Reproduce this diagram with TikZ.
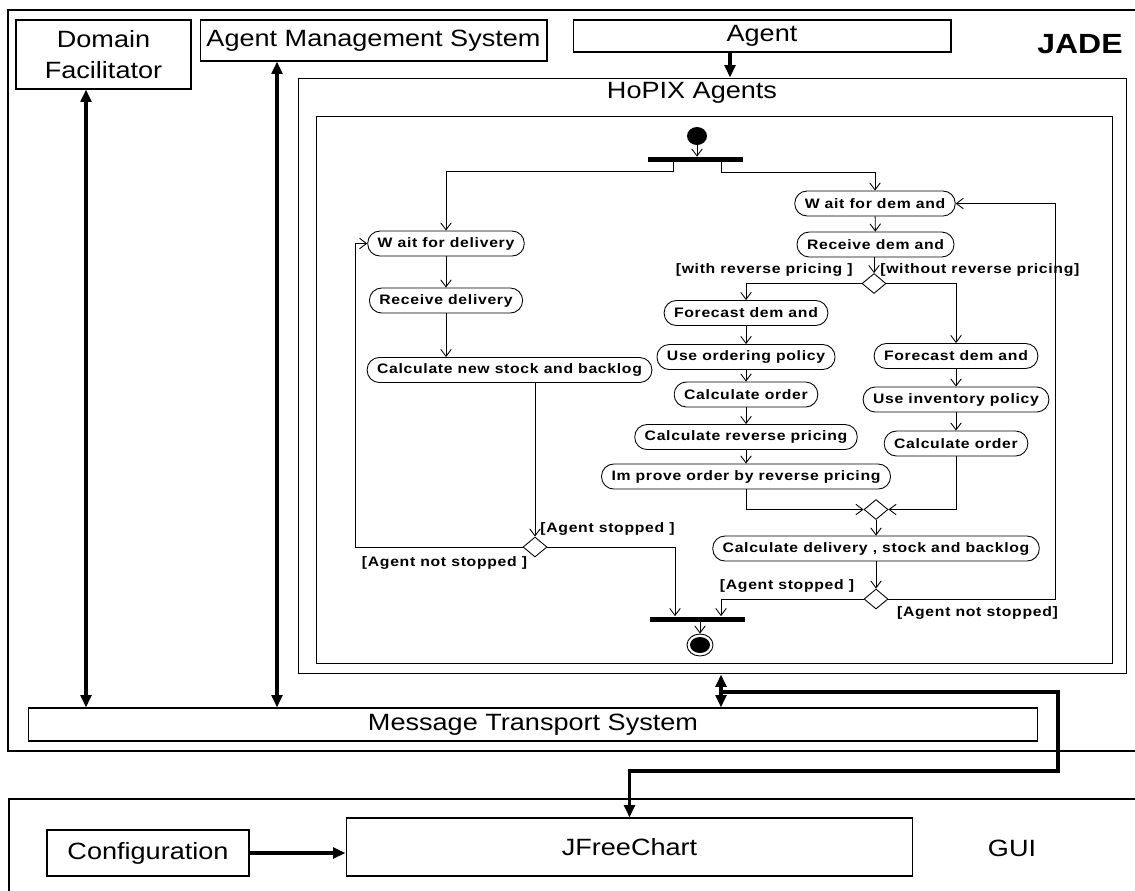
\documentclass[tikz,border=0pt]{standalone}
\usepackage{fontspec}
\setmainfont{Liberation Sans}[FakeStretch=1.15]
\newfontfamily\actfont{Liberation Sans}[FakeStretch=1.15,LetterSpace=5]
\usetikzlibrary{arrows.meta,shapes.geometric,calc}

\tikzset{
  archbox/.style={draw, line width=0.6pt, inner sep=0pt, align=center, font=\fontsize{13.4}{18}\selectfont},
  archlabel/.style={inner sep=0pt, font=\fontsize{13.4}{18}\selectfont},
  frame/.style={draw, line width=0.6pt, inner sep=0pt},
  act/.style={draw, line width=0.5pt, rounded corners=0.245cm, minimum height=0.5cm, inner xsep=0.2cm, inner ysep=0pt, font=\actfont\bfseries\fontsize{7.8}{9}\selectfont},
  guard/.style={inner sep=0pt, font=\actfont\bfseries\fontsize{7.8}{9}\selectfont},
  choice/.style={draw, diamond, line width=0.5pt, inner sep=0pt, minimum width=0.48cm, minimum height=0.4cm},
  syncbar/.style={fill, inner sep=0pt, minimum width=1.9cm, minimum height=0.1cm},
  flow/.style={line width=0.5pt, -{Straight Barb[length=4pt,width=6pt]}},
  bigflow/.style={line width=2pt, -{Triangle[length=7pt,width=6pt]}},
  bigboth/.style={line width=2pt, {Triangle[length=7pt,width=6pt]}-{Triangle[length=7pt,width=6pt]}}
}

\begin{document}
\begin{tikzpicture}[x=0.02cm, y=-0.02cm]
        \useasboundingbox (0,0) rectangle (1135,890);
        \clip (0,0) rectangle (1135,890);

        %JADE
        \draw [line width=0.6pt] (8,10) rectangle (1150,751);
        \node [inner sep=0pt, font=\bfseries\fontsize{15.8}{18}\selectfont] (jade) at (1080,44) {JADE};
        \node [archbox, minimum width=3.5cm, minimum height=1.38cm] (df) at (103.5,54.5) {Domain\\Facilitator};
        \node [archbox, minimum width=6.94cm, minimum height=0.82cm] (ams) at (373.5,40.5) {Agent Management System};
        \node [archbox, minimum width=7.56cm, minimum height=0.64cm] (agent) at (762,36) {Agent};
        \node [archbox, minimum width=20.2cm, minimum height=0.66cm] (mts) at (533,724.5) {Message Transport System};

        %HoPIX Agents
        \node [frame, minimum width=16.58cm, minimum height=11.92cm] (hopix) at (712.5,376) {};
        \node [archlabel] (hopixtitle) at (692,93) {HoPIX Agents};
        \node [frame, minimum width=15.94cm, minimum height=10.96cm] (activity) at (714.5,390) {};

        %Platform links
        \coordinate (dfdrop) at (86,0);
        \coordinate (amsdrop) at (277,0);
        \coordinate (agentdrop) at (730,0);
        \coordinate (hopixdrop) at (721,0);
        \coordinate (tap) at (721,692);
        \draw [bigboth] (df.south -| dfdrop) -- (mts.north -| dfdrop);
        \draw [bigboth] (ams.south -| amsdrop) -- (mts.north -| amsdrop);
        \draw [bigflow] (agent.south -| agentdrop) -- (hopix.north -| agentdrop);
        \draw [bigboth] (hopix.south -| hopixdrop) -- (mts.north -| hopixdrop);

        %Start and fork
        \node [ellipse, fill, inner sep=0pt, minimum width=0.4cm, minimum height=0.36cm] (start) at (697,136) {};
        \node [syncbar] (forkbar) at (695.5,159.5) {};
        \draw [flow] (start.south) -- (start.south |- forkbar.north);

        %Delivery side
        \node [act] (waitdel) at (446,243.5) {W ait for delivery};
        \node [act] (recdel) at (446,300.5) {Receive delivery};
        \node [act] (calcstock) at (509.5,370) {Calculate new stock and backlog};
        \node [choice] (dleft) at (535,547) {};
        \draw [flow] ($(forkbar.south)+(-22.5,0)$) -- ++(0,9) -| (waitdel.north);
        \draw [flow] (waitdel) -- (recdel);
        \draw [flow] (recdel.south) -- (recdel.south |- calcstock.north);
        \draw [flow] (calcstock.south -| dleft.north) -- (dleft.north);
        \draw [flow] (dleft.west) -- ++(-167,0) |- (waitdel.west);
        \node [guard] (dlstop) at (607.5,529) {[Agent stopped ]};
        \node [guard] (dlgo) at (444.5,563) {[Agent not stopped ]};

        %Demand side
        \node [act] (waitdem) at (875,203.5) {W ait for dem and};
        \node [act] (recdem) at (875.5,244.5) {Receive dem and};
        \node [choice] (dsplit) at (874,283.5) {};
        \draw [flow] ($(forkbar.south)+(25.5,0)$) -- ++(0,10) -| (waitdem.north);
        \draw [flow] (waitdem) -- (recdem);
        \draw [flow] (recdem.south -| dsplit.north) -- (dsplit.north);
        \node [guard, anchor=east] (withrp) at (853,270) {[with reverse pricing ]};
        \node [guard, anchor=west] (withoutrp) at (880,270) {[without reverse pricing]};

        %With reverse pricing
        \node [act] (fcl) at (746,313) {Forecast dem and};
        \node [act] (uop) at (746,357) {Use ordering policy};
        \node [act] (col) at (746,394.5) {Calculate order};
        \node [act] (crp) at (746,437) {Calculate reverse pricing};
        \node [act] (iop) at (746,476.5) {Im prove order by reverse pricing};
        \draw [flow] (dsplit.west) -| (fcl.north);
        \draw [flow] (fcl) -- (uop);
        \draw [flow] (uop) -- (col);
        \draw [flow] (col) -- (crp);
        \draw [flow] (crp) -- (iop);

        %Without reverse pricing
        \node [act] (fcr) at (956,356) {Forecast dem and};
        \node [act] (uip) at (956,399.5) {Use inventory policy};
        \node [act] (cor) at (956,443.5) {Calculate order};
        \draw [flow] (dsplit.east) -| (fcr.north);
        \draw [flow] (fcr) -- (uip);
        \draw [flow] (uip) -- (cor);

        %Merge
        \node [choice] (merge) at (876,509.5) {};
        \node [act] (cdsb) at (876,548.5) {Calculate delivery , stock and backlog};
        \node [choice] (dright) at (876,599) {};
        \draw [flow] (iop.south) |- (merge.west);
        \draw [flow] (cor.south) |- (merge.east);
        \draw [flow] (merge) -- (cdsb);
        \draw [flow] (cdsb) -- (dright);
        \draw [flow] (dright.east) -- ++(167,0) |- (waitdem.east);
        \node [guard] (drstop) at (787,586) {[Agent stopped ]};
        \node [guard] (drgo) at (977.5,613) {[Agent not stopped]};

        %Join and end
        \node [syncbar] (endbar) at (697.5,619) {};
        \node [ellipse, draw, line width=0.5pt, inner sep=0pt, minimum width=0.52cm, minimum height=0.44cm] (endring) at (700,645) {};
        \node [ellipse, fill, inner sep=0pt, minimum width=0.4cm, minimum height=0.32cm] (enddot) at (700,645) {};
        \draw [flow] (dleft.east) -| ($(endbar.north)+(-22.5,0)$);
        \draw [flow] (dright.west) -| ($(endbar.north)+(23.5,0)$);
        \draw [flow] (endbar.south -| endring.north) -- (endring.north);

        %GUI
        \draw [line width=0.6pt] (9,799) rectangle (1150,900);
        \node [archbox, minimum width=11.34cm, minimum height=1.16cm] (jfc) at (629.5,847) {JFreeChart};
        \node [archbox, minimum width=4.04cm, minimum height=0.92cm] (config) at (148,853) {Configuration};
        \node [archlabel] (gui) at (1012,848) {GUI};
        \draw [bigflow] (tap) -- (1058,692) -- (1058,771) -| (jfc.north);
        \draw [bigflow] (config.east) -- (config.east -| jfc.west);
\end{tikzpicture}
\end{document}
